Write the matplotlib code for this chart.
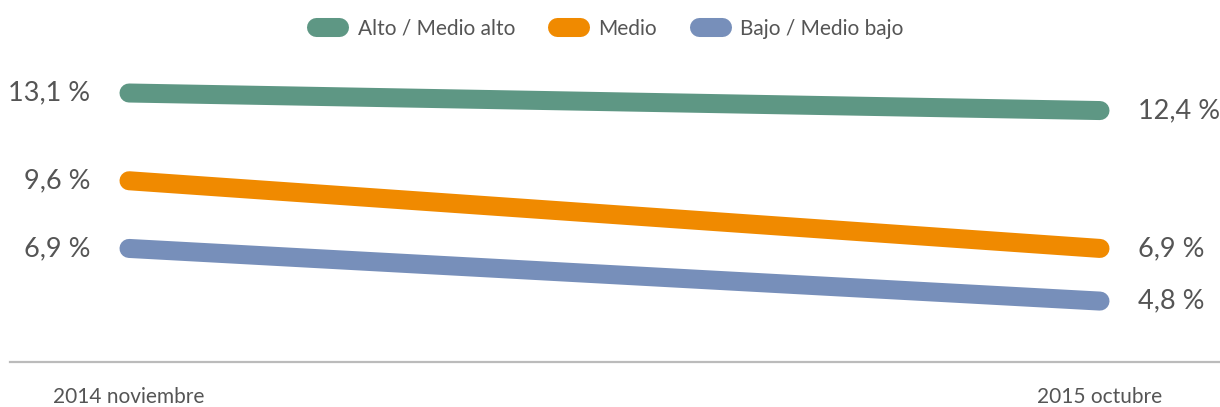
import matplotlib
matplotlib.use('Agg')
import matplotlib.pyplot as plt
from matplotlib.lines import Line2D

# data
periods = ['2014 noviembre', '2015 octubre']
series = ['Alto / Medio alto', 'Medio', 'Bajo / Medio bajo']
alto = [13.1, 12.4]
medio = [9.6, 6.9]
bajo = [6.9, 4.8]
colors = ['#5e9784', '#f08a00', '#778fba']

plt.rcParams['font.family'] = ['Lato', 'DejaVu Sans']
txt = '#555555'

fig = plt.figure(figsize=(12.2, 4.07), dpi=100)
ax = fig.add_axes([10 / 1220, 45 / 407, 1210 / 1220, 362 / 407])

lw = 13.7
handles = []
for vals, c, name in zip([alto, medio, bajo], colors, series):
    ax.plot([0, 1], vals, color=c, lw=lw, solid_capstyle='round')
    handles.append(Line2D([], [], color=c, lw=lw, solid_capstyle='round', label=name))
    ax.annotate(f'{vals[0]:.1f} %'.replace('.', ','), (0, vals[0]), xytext=(-28, 0),
                textcoords='offset points', ha='right', va='center', fontsize=19.5, color=txt)
    ax.annotate(f'{vals[1]:.1f} %'.replace('.', ','), (1, vals[1]), xytext=(27, 0),
                textcoords='offset points', ha='left', va='center', fontsize=19.5, color=txt)

ax.set_xlim(-119 / 971, 1091 / 971)
ax.set_ylim(2.37, 16.81)
for s in ['top', 'left', 'right']:
    ax.spines[s].set_visible(False)
ax.spines['bottom'].set_color('#bbbbbb')
ax.spines['bottom'].set_linewidth(1.6)
ax.set_yticks([])
ax.set_xticks([0, 1])
ax.set_xticklabels(periods, fontsize=15, color=txt)
ax.tick_params(axis='x', length=0, pad=18)
ax.patch.set_alpha(0)

fig.legend(handles=handles, loc='upper center', bbox_to_anchor=(0.5, 1.0), ncol=3,
           frameon=False, fontsize=15, handlelength=1.1, handletextpad=0.9,
           columnspacing=2.0, labelcolor=txt)

fig.savefig('out.png', dpi=100)
